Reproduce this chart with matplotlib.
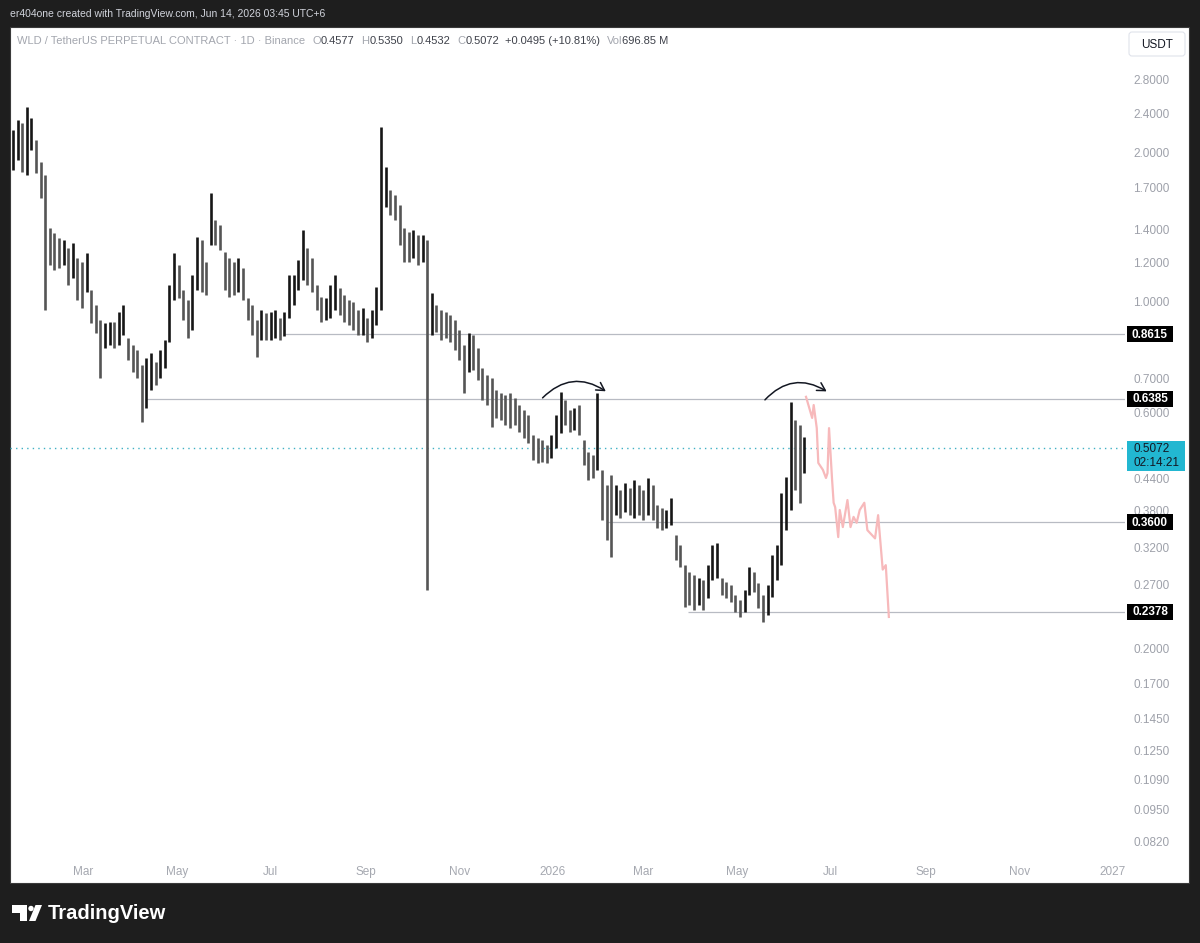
import numpy as np
import pandas as pd
import matplotlib
matplotlib.use('Agg')
import matplotlib.pyplot as plt
import matplotlib.dates as mdates
from matplotlib.patches import Rectangle, FancyArrowPatch, FancyBboxPatch, Circle, Polygon

plt.rcParams['font.family'] = ['Liberation Sans', 'DejaVu Sans']

bar_start = '2025-01-14'
highs = [2.221, 2.326, 2.294, 2.471, 2.348, 2.120, 1.914, 1.800, 1.409, 1.377,
         1.346, 1.333, 1.285, 1.315, 1.226, 1.204, 1.255, 1.057, 0.986, 0.920,
         0.907, 0.911, 0.911, 0.955, 0.986, 0.846, 0.819, 0.800, 0.747, 0.771,
         0.789, 0.757, 0.800, 0.838, 1.082, 1.255, 1.187, 1.057, 1.009, 1.133,
         1.352, 1.333, 1.204, 1.658, 1.463, 1.429, 1.261, 1.226, 1.204, 1.226,
         1.171, 1.019, 0.986, 0.920, 0.964, 0.950, 0.955, 0.964, 0.928, 0.955,
         1.133, 1.133, 1.215, 1.396, 1.285, 1.226, 1.082, 1.023, 1.019, 1.082,
         1.133, 1.067, 1.033, 1.009, 1.000, 0.964, 0.973, 0.928, 0.964, 1.072,
         2.252, 1.871, 1.681, 1.643, 1.568, 1.409, 1.384, 1.396, 1.365, 1.365,
         1.333, 1.043, 0.986, 0.964, 0.955, 0.941, 0.920, 0.878, 0.819, 0.866,
         0.858, 0.808, 0.736, 0.713, 0.703, 0.665, 0.656, 0.650, 0.656, 0.641,
         0.620, 0.606, 0.592, 0.540, 0.532, 0.527, 0.515, 0.540, 0.592, 0.659,
         0.635, 0.606, 0.612, 0.620, 0.527, 0.499, 0.492, 0.656, 0.459, 0.428,
         0.448, 0.428, 0.418, 0.432, 0.422, 0.438, 0.428, 0.418, 0.442, 0.428,
         0.390, 0.385, 0.381, 0.403, 0.339, 0.324, 0.295, 0.286, 0.282, 0.278,
         0.275, 0.295, 0.324, 0.327, 0.278, 0.273, 0.269, 0.257, 0.251, 0.263,
         0.293, 0.286, 0.272, 0.257, 0.269, 0.309, 0.324, 0.412, 0.444, 0.629,
         0.579, 0.565, 0.535]
lows = [1.845, 1.932, 1.827, 1.802, 2.024, 1.819, 1.620, 0.964, 1.187, 1.160,
        1.171, 1.187, 1.082, 1.118, 1.009, 0.973, 1.047, 0.907, 0.866, 0.703,
        0.808, 0.819, 0.808, 0.819, 0.858, 0.764, 0.723, 0.703, 0.573, 0.612,
        0.665, 0.680, 0.703, 0.736, 0.831, 1.009, 1.019, 0.920, 0.846, 0.878,
        1.057, 1.047, 1.033, 1.303, 1.303, 1.273, 1.057, 1.023, 1.033, 1.047,
        1.009, 0.920, 0.858, 0.775, 0.838, 0.838, 0.838, 0.846, 0.838, 0.854,
        0.928, 0.986, 1.057, 1.107, 1.082, 1.047, 0.964, 0.911, 0.920, 0.928,
        0.964, 0.941, 0.911, 0.899, 0.878, 0.858, 0.858, 0.831, 0.846, 0.899,
        0.964, 1.554, 1.497, 1.463, 1.303, 1.204, 1.204, 1.226, 1.187, 1.204,
        0.263, 0.858, 0.870, 0.838, 0.846, 0.831, 0.800, 0.764, 0.656, 0.723,
        0.730, 0.696, 0.635, 0.620, 0.560, 0.584, 0.579, 0.565, 0.557, 0.565,
        0.547, 0.532, 0.520, 0.481, 0.474, 0.476, 0.474, 0.485, 0.508, 0.545,
        0.565, 0.547, 0.552, 0.540, 0.470, 0.438, 0.442, 0.459, 0.364, 0.332,
        0.306, 0.372, 0.367, 0.378, 0.372, 0.367, 0.372, 0.364, 0.372, 0.364,
        0.351, 0.347, 0.351, 0.355, 0.302, 0.293, 0.243, 0.245, 0.240, 0.245,
        0.240, 0.253, 0.275, 0.278, 0.257, 0.253, 0.249, 0.2375, 0.232, 0.2375,
        0.257, 0.261, 0.242, 0.227, 0.234, 0.255, 0.275, 0.295, 0.347, 0.381,
        0.418, 0.394, 0.4532]
last_close = 0.5072

# projected path drawn in pink
proj_dates = ['2026-06-15', '2026-06-19', '2026-06-20', '2026-06-22', '2026-06-23',
              '2026-06-26', '2026-06-28', '2026-06-29', '2026-06-30', '2026-07-02',
              '2026-07-03', '2026-07-04', '2026-07-06', '2026-07-07', '2026-07-09',
              '2026-07-12', '2026-07-14', '2026-07-16', '2026-07-18', '2026-07-20',
              '2026-07-23', '2026-07-25', '2026-07-30', '2026-08-01', '2026-08-04',
              '2026-08-06', '2026-08-08']
proj_prices = [0.644, 0.584, 0.620, 0.557, 0.474, 0.459, 0.442, 0.452, 0.557, 0.438,
               0.394, 0.386, 0.336, 0.381, 0.352, 0.399, 0.352, 0.369, 0.359, 0.381,
               0.394, 0.347, 0.334, 0.372, 0.289, 0.295, 0.232]

# horizontal levels and where they start
levels = [0.8615, 0.6385, 0.3600, 0.2378]
level_starts = ['2025-07-10', '2025-04-10', '2026-02-05', '2026-03-30']

# the two curved arrows
arc_starts = [('2025-12-24', 0.635), ('2026-05-18', 0.629)]
arc_ends = [('2026-02-06', 0.656), ('2026-06-30', 0.656)]

price_ticks = [2.8, 2.4, 2.0, 1.7, 1.4, 1.2, 1.0, 0.7, 0.6, 0.44, 0.38,
               0.32, 0.27, 0.2, 0.17, 0.145, 0.125, 0.109, 0.095, 0.082]
time_ticks = ['2025-03-01', '2025-05-01', '2025-07-01', '2025-09-01', '2025-11-01',
              '2026-01-01', '2026-03-01', '2026-05-01', '2026-07-01', '2026-09-01',
              '2026-11-01', '2027-01-01']
time_labels = ['Mar', 'May', 'Jul', 'Sep', 'Nov', '2026', 'Mar', 'May', 'Jul',
               'Sep', 'Nov', '2027']

W, H = 1200, 943
fig = plt.figure(figsize=(W / 100, H / 100), dpi=100, facecolor='#1e1e1e')

# background layer in pixel coordinates
bg = fig.add_axes([0, 0, 1, 1], zorder=0)
bg.set_xlim(0, W)
bg.set_ylim(H, 0)
bg.axis('off')
bg.add_patch(Rectangle((10, 27), 1179, 856, facecolor='white', edgecolor='#3a3a3a', lw=0.8))
bg.text(10, 14, 'er404one created with TradingView.com, Jun 14, 2026 03:45 UTC+6',
        color='#d1d4dc', fontsize=7.5, va='center', ha='left')

# main chart
ax = fig.add_axes([10 / W, 1 - 855 / H, 1115 / W, (855 - 27) / H], zorder=1)
ax.set_facecolor('none')
for s in ax.spines.values():
    s.set_visible(False)
ax.set_yscale('log')
ax.set_ylim(0.0769, 3.58)
t0 = mdates.date2num(pd.Timestamp('2025-01-01'))
ax.set_xlim(t0 + 17 / 1.534, t0 + 1132 / 1.534)

dates = pd.date_range(bar_start, periods=len(highs), freq='3D')
hi = np.array(highs)
lo = np.array(lows)
mid = (hi + lo) / 2
up = np.concatenate([[True], mid[1:] >= mid[:-1]])
cols = np.where(up, '#161616', '#555555')
ax.vlines(dates, lo, hi, colors=cols, lw=1.9, zorder=3)

# levels
x_right = ax.get_xlim()[1]
for lv, st in zip(levels, level_starts):
    ax.hlines(lv, mdates.date2num(pd.Timestamp(st)), x_right, color='#b8bbc3', lw=0.9, zorder=2)
ax.axhline(last_close, color='#3fb0c4', lw=1.0, ls=(0, (1, 3)), zorder=2)

ax.plot(pd.to_datetime(proj_dates), proj_prices, color='#f7b9bb', lw=1.6, zorder=3,
        solid_joinstyle='round')

for (d0, p0), (d1, p1) in zip(arc_starts, arc_ends):
    arr = FancyArrowPatch((mdates.date2num(pd.Timestamp(d0)), p0),
                          (mdates.date2num(pd.Timestamp(d1)), p1),
                          connectionstyle='arc3,rad=-0.43',
                          arrowstyle='->,head_length=0.7,head_width=0.4',
                          mutation_scale=8, lw=1.1, color='#131722', zorder=4)
    ax.add_patch(arr)

ax.yaxis.tick_right()
ax.set_yticks(price_ticks)
ax.set_yticklabels(['%.4f' % v for v in price_ticks])
ax.yaxis.set_minor_locator(matplotlib.ticker.NullLocator())
ax.tick_params(axis='y', length=0, pad=6, labelsize=8.5, labelcolor='#9ea1aa')
ax.set_xticks(pd.to_datetime(time_ticks))
ax.set_xticklabels(time_labels)
ax.tick_params(axis='x', length=0, pad=8, labelsize=8.5, labelcolor='#a5a8b0')

# overlay: legend line, price boxes, logo
top = fig.add_axes([0, 0, 1, 1], zorder=5)
top.set_xlim(0, W)
top.set_ylim(H, 0)
top.axis('off')
top.patch.set_alpha(0)

renderer = fig.canvas.get_renderer()
pieces = [('WLD / TetherUS PERPETUAL CONTRACT \u00b7 1D \u00b7 Binance', '#a3a6ae', 0),
          ('O', '#a3a6ae', 7), ('0.4577', '#3e414a', 0),
          ('H', '#a3a6ae', 7), ('0.5350', '#3e414a', 0),
          ('L', '#a3a6ae', 7), ('0.4532', '#3e414a', 0),
          ('C', '#a3a6ae', 7), ('0.5072', '#3e414a', 0),
          ('+0.0495 (+10.81%)', '#3e414a', 6),
          ('Vol', '#a3a6ae', 7), ('696.85 M', '#3e414a', 0)]
xcur = 17
for txt, c, gap in pieces:
    xcur += gap
    t = top.text(xcur, 41, txt, color=c, fontsize=8, va='center', ha='left')
    bb = t.get_window_extent(renderer)
    xcur += bb.width

top.add_patch(FancyBboxPatch((1129, 32), 56, 24, boxstyle='round,pad=0,rounding_size=3',
                             facecolor='white', edgecolor='#e0e3eb', lw=0.8))
top.text(1157, 44.5, 'USDT', color='#131722', fontsize=8.5, ha='center', va='center')


def ypix(p):
    return H - ax.transData.transform((ax.get_xlim()[0], p))[1]


for lv in levels:
    y = ypix(lv)
    top.add_patch(Rectangle((1127, y - 8), 46, 16, facecolor='black', edgecolor='none'))
    top.text(1150, y + 0.5, '%.4f' % lv, color='white', fontsize=8.5, fontweight='bold',
             ha='center', va='center')

yc = ypix(last_close)
top.add_patch(Rectangle((1127, yc - 7), 58, 30, facecolor='#22b7d1', edgecolor='none'))
top.text(1133, yc + 1, '%.4f' % last_close, color='#131722', fontsize=8.5, ha='left', va='center')
top.text(1133, yc + 14.5, '02:14:21', color='#131722', fontsize=8.5, ha='left', va='center')

# TradingView logo
top.add_patch(Rectangle((12, 905), 15, 7.5, facecolor='white', edgecolor='none'))
top.add_patch(Rectangle((19.5, 905), 7.5, 16, facecolor='white', edgecolor='none'))
top.add_patch(Circle((31, 908.5), 2.7, facecolor='white', edgecolor='none'))
top.add_patch(Polygon([(35.5, 905), (42, 905), (35.5, 921), (29, 921)],
                      closed=True, facecolor='white', edgecolor='none'))
top.text(48, 913.5, 'TradingView', color='white', fontsize=14.5, fontweight='bold',
         ha='left', va='center')

fig.savefig('out.png', dpi=100, facecolor=fig.get_facecolor())
